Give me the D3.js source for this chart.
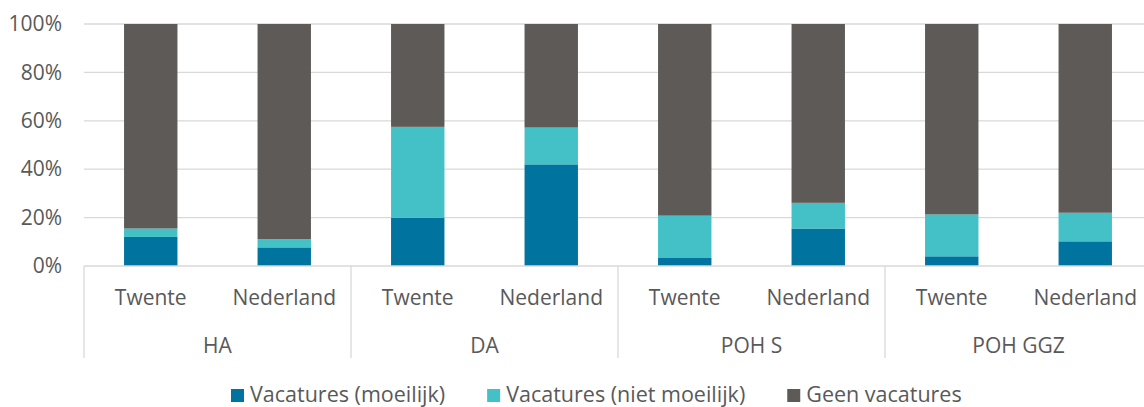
<!DOCTYPE html>
<html>
<head>
<meta charset="utf-8">
<script src="https://cdn.jsdelivr.net/npm/d3@7"></script>
<style>
  html, body { margin: 0; padding: 0; background: #fff; }
  svg { display: block; }
  text { font-family: "Open Sans", "Liberation Sans", sans-serif; fill: #595959; }
</style>
</head>
<body>
<svg id="chart" width="1144" height="407"></svg>
<script>
const groups = ["HA", "DA", "POH S", "POH GGZ"];
const regions = ["Twente", "Nederland"];
const seriesNames = ["Vacatures (moeilijk)", "Vacatures (niet moeilijk)", "Geen vacatures"];
const moeilijk     = [12.0, 7.7, 20.0, 42.0, 3.3, 15.5, 4.0, 10.2];
const nietMoeilijk = [3.5, 3.4, 37.5, 15.2, 17.5, 10.6, 17.3, 11.8];
const geen         = [84.5, 88.9, 42.5, 42.8, 79.2, 73.9, 78.7, 78.0];
const yTicks = [0, 20, 40, 60, 80, 100];
const colors = ["#00739f", "#43c1c6", "#5e5a57"];

const svg = d3.select("#chart");
const plotLeft = 84, plotRight = 1152, plotTop = 24, plotBottom = 266;
const fontSize = 21;

const rows = [];
groups.forEach((g, gi) => regions.forEach((r, ri) => {
  const i = gi * regions.length + ri;
  rows.push({ key: g + "|" + r, group: g, region: r,
    s0: moeilijk[i], s1: nietMoeilijk[i], s2: geen[i] });
}));

const x = d3.scaleBand().domain(rows.map(d => d.key)).range([plotLeft, plotRight])
  .paddingInner(0.6).paddingOuter(0.3);
const y = d3.scaleLinear().domain([0, 100]).range([plotBottom, plotTop]);

// gridlines
svg.append("g").selectAll("line").data(yTicks.filter(t => t > 0)).join("line")
  .attr("x1", plotLeft).attr("x2", plotRight)
  .attr("y1", d => y(d)).attr("y2", d => y(d))
  .attr("stroke", "#d9d9d9").attr("stroke-width", 1.3);

// y axis labels
const yAxis = d3.axisLeft(y).tickValues(yTicks).tickFormat(d => d + "%").tickSize(0).tickPadding(22);
const ya = svg.append("g").attr("transform", `translate(${plotLeft},0)`).call(yAxis);
ya.select(".domain").remove();
ya.selectAll("text").style("font-size", fontSize + "px").attr("fill", "#595959")
  .style("font-family", '"Open Sans", "Liberation Sans", sans-serif');

// stacked bars
const stack = d3.stack().keys(["s0", "s1", "s2"]);
const stacked = stack(rows);
svg.append("g").selectAll("g").data(stacked).join("g")
  .attr("fill", (d, i) => colors[i])
  .selectAll("rect").data(d => d).join("rect")
  .attr("x", d => x(d.data.key))
  .attr("width", x.bandwidth())
  .attr("y", d => y(d[1]))
  .attr("height", d => y(d[0]) - y(d[1]));

// x axis baseline
svg.append("line").attr("x1", plotLeft).attr("x2", plotRight)
  .attr("y1", plotBottom).attr("y2", plotBottom)
  .attr("stroke", "#d9d9d9").attr("stroke-width", 1.5);

// group separators
const step = x.step();
const groupEdges = [];
for (let gi = 0; gi <= groups.length; gi++) {
  const k = gi * regions.length;
  groupEdges.push(k < rows.length ? x(rows[k].key) - x.paddingOuter() * step : plotRight);
}
svg.append("g").selectAll("line").data(groupEdges).join("line")
  .attr("x1", d => d).attr("x2", d => d)
  .attr("y1", plotBottom).attr("y2", 358)
  .attr("stroke", "#d9d9d9").attr("stroke-width", 1.3);

// category labels
const xAxis = d3.axisBottom(x).tickFormat(k => k.split("|")[1]).tickSize(0).tickPadding(0);
const xa = svg.append("g").attr("transform", `translate(0,${plotBottom})`).call(xAxis);
xa.select(".domain").remove();
xa.selectAll("text").attr("dy", null).attr("y", 32 + 7).style("font-size", fontSize + "px")
  .attr("fill", "#595959").style("font-family", '"Open Sans", "Liberation Sans", sans-serif');

// group labels
svg.append("g").selectAll("text").data(groups).join("text")
  .attr("x", (g, gi) => (groupEdges[gi] + groupEdges[gi + 1]) / 2)
  .attr("y", 346 + 7)
  .attr("text-anchor", "middle")
  .style("font-size", fontSize + "px")
  .text(d => d);

// legend
const legend = svg.append("g");
let lx = 231;
seriesNames.forEach((name, i) => {
  legend.append("rect").attr("x", lx).attr("y", 389).attr("width", 13).attr("height", 13).attr("fill", colors[i]);
  const t = legend.append("text").attr("x", lx + 19).attr("y", 395 + 7)
    .style("font-size", "21.5px").text(name);
  const w = t.node().getComputedTextLength();
  lx = lx + 19 + w + 42;
});
</script>
</body>
</html>
